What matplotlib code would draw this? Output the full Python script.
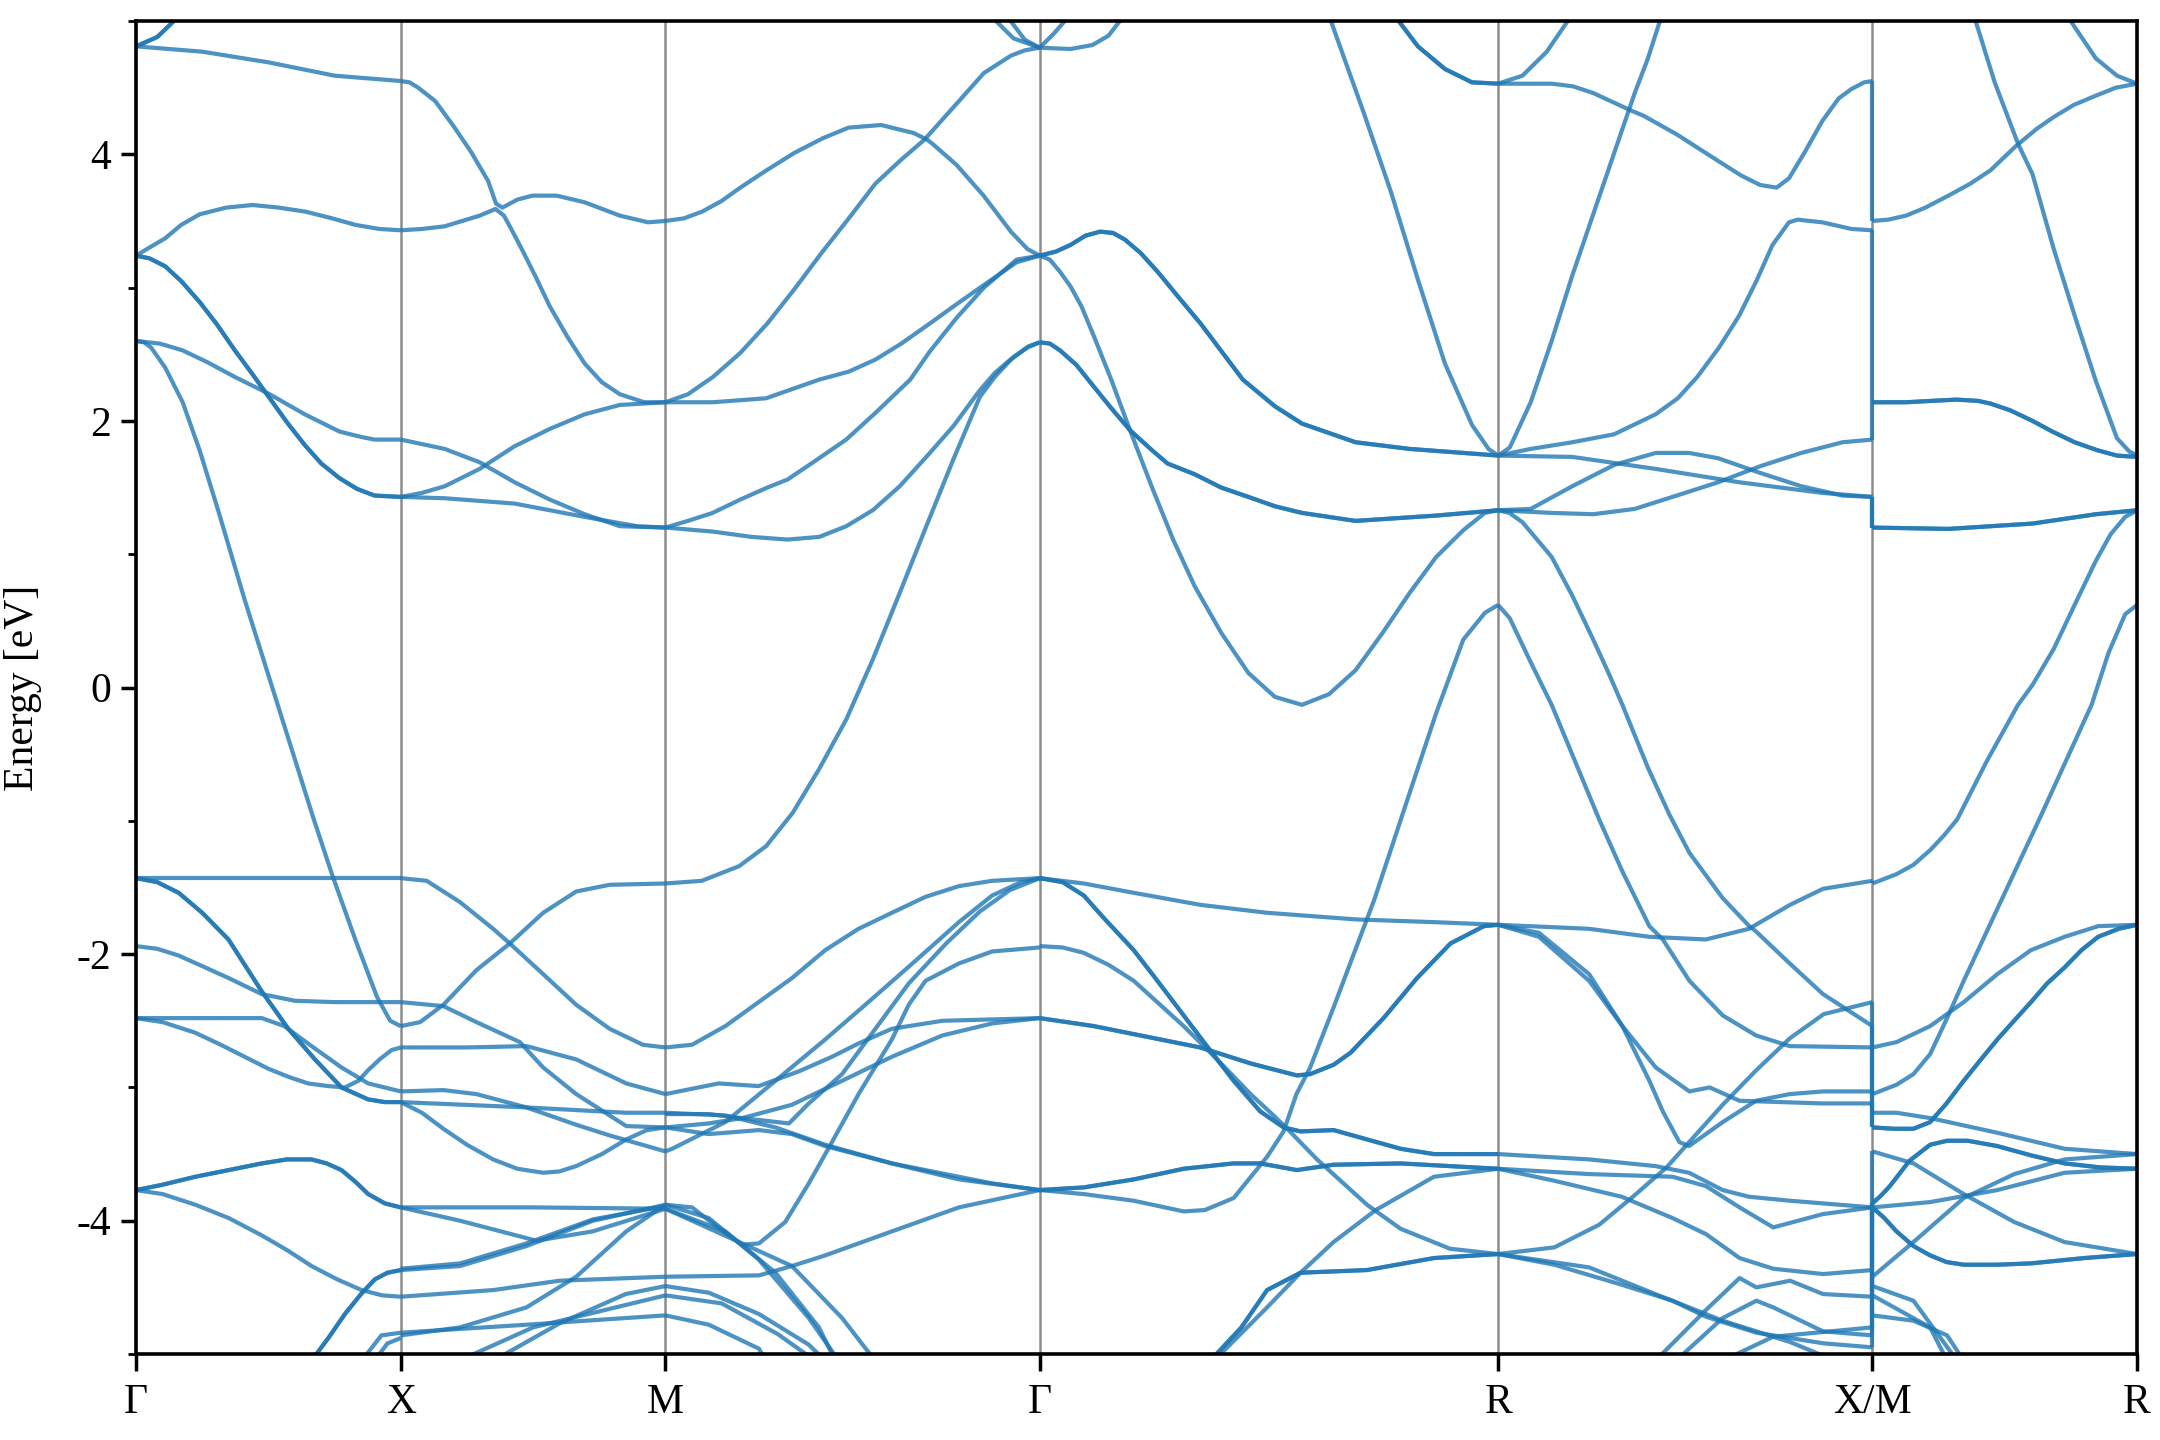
import numpy as np
import matplotlib
matplotlib.use('Agg')
import matplotlib.pyplot as plt
from matplotlib.ticker import MultipleLocator

# high symmetry points along the path (units of 2pi/a)
kpts = [0.0, 0.5, 1.0, 1.7071, 2.5731, 3.2802, 3.7802]
klabels = ['Γ', 'X', 'M', 'Γ', 'R', 'X/M', 'R']

# each band: (fraction along the segment, energy in eV)

# Gamma -> X
seg_gx = [
    ([0, .08, .169], [4.81, 4.88, 5.05]),
    ([0, .08, .169], [4.81, 4.88, 5.05]),
    ([0, .25, .5, .75, 1], [4.81, 4.77, 4.69, 4.59, 4.55]),
    ([0, .05, .11, .17, .24, .34, .44, .54, .64, .74, .83, .92, 1],
     [3.24, 3.30, 3.37, 3.47, 3.55, 3.60, 3.62, 3.60, 3.57, 3.52, 3.47, 3.44, 3.43]),
    ([0, .05, .11, .17, .241, .307, .373, .44, .505, .57, .637, .70, .769, .835, .901, 1],
     [3.24, 3.22, 3.16, 3.05, 2.89, 2.72, 2.53, 2.35, 2.17, 1.99, 1.82, 1.68, 1.57, 1.49, 1.44, 1.43]),
    ([0, .05, .11, .17, .241, .307, .373, .44, .505, .57, .637, .70, .769, .835, .901, 1],
     [3.24, 3.22, 3.16, 3.05, 2.89, 2.72, 2.53, 2.35, 2.17, 1.99, 1.82, 1.68, 1.57, 1.49, 1.44, 1.43]),
    ([0, .09, .175, .27, .373, .505, .637, .769, .85, .901, 1],
     [2.60, 2.58, 2.53, 2.44, 2.33, 2.20, 2.05, 1.92, 1.88, 1.86, 1.86]),
    ([0, .03, .057, .11, .176, .24, .31, .41, .54, .67, .74, .83, .91, .96, 1],
     [2.60, 2.59, 2.55, 2.40, 2.14, 1.78, 1.33, 0.66, -0.16, -0.98, -1.40, -1.90, -2.32, -2.50, -2.54]),
    ([0, .5, 1], [-1.43, -1.43, -1.43]),
    ([0, .08, .161, .25, .349, .475, .575, .676, .776, .877, .94, 1],
     [-1.43, -1.46, -1.54, -1.69, -1.89, -2.28, -2.56, -2.79, -3.0, -3.09, -3.11, -3.11]),
    ([0, .08, .161, .25, .349, .475, .575, .676, .776, .877, .94, 1],
     [-1.43, -1.46, -1.54, -1.69, -1.89, -2.28, -2.56, -2.79, -3.0, -3.09, -3.11, -3.11]),
    ([0, .08, .16, .25, .35, .475, .6, .75, 1], [-1.94, -1.96, -2.01, -2.09, -2.18, -2.30, -2.35, -2.36, -2.36]),
    ([0, .224, .475, .56, .663, .776, .877, 1], [-2.48, -2.48, -2.48, -2.54, -2.69, -2.85, -2.97, -3.03]),
    ([0, .1, .224, .32, .41, .5, .575, .65, .726, .789, .84, .877, .92, .965, 1],
     [-2.48, -2.51, -2.59, -2.68, -2.77, -2.86, -2.92, -2.97, -2.99, -3.0, -2.95, -2.87, -2.79, -2.72, -2.70]),
    ([0, .1, .224, .35, .475, .57, .663, .72, .776, .83, .877, .94, 1],
     [-3.77, -3.73, -3.67, -3.62, -3.57, -3.54, -3.54, -3.57, -3.62, -3.71, -3.80, -3.87, -3.90]),
    ([0, .1, .224, .35, .475, .57, .663, .72, .776, .83, .877, .94, 1],
     [-3.77, -3.73, -3.67, -3.62, -3.57, -3.54, -3.54, -3.57, -3.62, -3.71, -3.80, -3.87, -3.90]),
    ([0, .1, .224, .35, .475, .57, .663, .76, .852, .93, 1],
     [-3.77, -3.80, -3.88, -3.98, -4.11, -4.22, -4.34, -4.44, -4.52, -4.56, -4.57]),
    ([.663, .73, .789, .85, .902, .95, 1], [-5.05, -4.87, -4.70, -4.55, -4.44, -4.39, -4.37]),
    ([.663, .73, .789, .85, .902, .95, 1], [-5.05, -4.87, -4.70, -4.55, -4.44, -4.39, -4.37]),
    ([.852, .927, 1], [-5.05, -4.86, -4.84]),
    ([.9, .95, 1], [-5.05, -4.92, -4.88]),
]

# X -> M
seg_xm = [
    ([0, .033, .066, .13, .2, .265, .33, .36, .384, .44, .497, .589, .695, .828, .934, 1],
     [4.55, 4.54, 4.50, 4.40, 4.21, 4.02, 3.80, 3.63, 3.60, 3.66, 3.69, 3.69, 3.64, 3.54, 3.49, 3.50]),
    ([0, .08, .166, .298, .358, .39, .42, .457, .51, .563, .63, .695, .76, .828, .92, 1],
     [3.43, 3.44, 3.46, 3.54, 3.59, 3.54, 3.43, 3.29, 3.08, 2.86, 2.63, 2.43, 2.29, 2.20, 2.14, 2.14]),
    ([0, .166, .298, .43, .563, .695, .828, 1], [1.86, 1.79, 1.69, 1.54, 1.41, 1.30, 1.21, 1.20]),
    ([0, .08, .166, .298, .43, .563, .695, .828, 1], [1.43, 1.46, 1.51, 1.64, 1.81, 1.94, 2.05, 2.12, 2.14]),
    ([0, .166, .43, .695, .894, 1], [1.43, 1.42, 1.38, 1.28, 1.21, 1.20]),
    ([0, .098, .224, .349, .412, .538, .663, .789, .915, 1],
     [-1.43, -1.45, -1.61, -1.81, -1.92, -2.15, -2.38, -2.56, -2.68, -2.70]),
    ([0, .073, .161, .286, .412, .538, .663, .789, 1], [-2.54, -2.51, -2.38, -2.12, -1.92, -1.69, -1.53, -1.48, -1.47]),
    ([0, .161, .286, .45, .538, .663, .789, .852, 1], [-2.36, -2.39, -2.51, -2.66, -2.85, -3.05, -3.21, -3.29, -3.30]),
    ([0, .25, .475, .663, .852, 1], [-2.70, -2.70, -2.69, -2.79, -2.97, -3.05]),
    ([0, .161, .286, .475, .663, .789, 1], [-3.03, -3.02, -3.05, -3.15, -3.28, -3.36, -3.48]),
    ([0, .475, .852, 1], [-3.11, -3.15, -3.19, -3.19]),
    ([0, .08, .161, .25, .349, .44, .538, .6, .663, .76, .852, .93, 1],
     [-3.11, -3.19, -3.31, -3.43, -3.54, -3.61, -3.64, -3.63, -3.59, -3.50, -3.39, -3.32, -3.30]),
    ([0, .5, 1], [-3.90, -3.90, -3.91]),
    ([0, .224, .513, .725, 1], [-3.90, -4.00, -4.15, -4.08, -3.91]),
    ([0, .224, .475, .726, 1], [-4.37, -4.34, -4.19, -4.00, -3.88]),
    ([0, .224, .475, .726, 1], [-4.36, -4.32, -4.17, -3.99, -3.89]),
    ([0, .35, .6, 1], [-4.57, -4.52, -4.45, -4.42]),
    ([0, .224, .475, .663, .852, 1], [-4.86, -4.80, -4.65, -4.42, -4.08, -3.88]),
    ([0, .475, 1], [-4.84, -4.78, -4.71]),
    ([.35, .6, .85, 1], [-5.05, -4.77, -4.55, -4.49]),
    ([.22, .5, 1], [-5.05, -4.80, -4.56]),
]

# M -> Gamma
seg_mg = [
    ([0, .05, .098, .15, .2, .27, .344, .42, .489, .576, .663, .699, .713, .778, .85, .923, .967, 1],
     [3.50, 3.52, 3.57, 3.65, 3.75, 3.88, 4.01, 4.12, 4.20, 4.22, 4.16, 4.11, 4.08, 3.92, 3.69, 3.42, 3.29, 3.24]),
    ([0, .06, .127, .2, .272, .345, .417, .49, .561, .63, .692, .778, .851, .923, .96, 1],
     [2.14, 2.20, 2.33, 2.51, 2.73, 2.99, 3.26, 3.52, 3.78, 3.96, 4.11, 4.38, 4.61, 4.74, 4.78, 4.80]),
    ([0, .126, .269, .411, .49, .561, .63, .706, .78, .851, .938, 1],
     [2.14, 2.14, 2.17, 2.31, 2.37, 2.46, 2.58, 2.73, 2.88, 3.02, 3.19, 3.24]),
    ([0, .06, .126, .2, .272, .326, .4, .483, .561, .654, .706, .78, .851, .938, 1],
     [1.20, 1.25, 1.31, 1.41, 1.50, 1.56, 1.70, 1.86, 2.06, 2.31, 2.52, 2.78, 3.0, 3.21, 3.24]),
    ([0, .126, .23, .326, .411, .483, .554, .626, .697, .769, .84, .88, .93, .967, 1],
     [1.20, 1.17, 1.13, 1.11, 1.13, 1.21, 1.33, 1.51, 1.73, 1.96, 2.23, 2.36, 2.48, 2.55, 2.59]),
    ([.865, .93, 1], [5.05, 4.87, 4.80]),
    ([.909, .96, 1], [5.05, 4.86, 4.80]),
    ([0, .097, .197, .269, .34, .411, .483, .554, .626, .697, .769, .84, .88, .923, .97, 1],
     [-1.47, -1.45, -1.34, -1.19, -0.94, -0.61, -0.24, 0.21, 0.71, 1.21, 1.71, 2.18, 2.33, 2.46, 2.56, 2.59]),
    ([0, .071, .16, .249, .338, .427, .516, .605, .695, .784, .873, 1],
     [-2.70, -2.68, -2.54, -2.36, -2.18, -1.97, -1.81, -1.69, -1.57, -1.49, -1.45, -1.43]),
    ([0, .071, .142, .249, .356, .445, .516, .605, .74, 1], [-3.05, -3.01, -2.97, -2.99, -2.88, -2.77, -2.67, -2.56, -2.50, -2.48]),
    ([0, .116, .205, .338, .472, .605, .74, .873, 1], [-3.20, -3.20, -3.23, -3.13, -2.95, -2.77, -2.61, -2.52, -2.48]),
    ([0, .018, .16, .294, .427, .534, .66, .784, .873, .95, 1],
     [-3.48, -3.46, -3.26, -2.95, -2.64, -2.38, -2.07, -1.76, -1.56, -1.46, -1.43]),
    ([0, .116, .205, .33, .383, .472, .561, .65, .75, .84, .92, 1],
     [-3.30, -3.27, -3.23, -3.27, -3.12, -2.90, -2.56, -2.22, -1.92, -1.68, -1.52, -1.43]),
    ([0, .116, .25, .338, .427, .605, .784, 1], [-3.30, -3.35, -3.32, -3.35, -3.44, -3.57, -3.69, -3.77]),
    ([0, .16, .294, .427, .605, .873, 1], [-3.19, -3.21, -3.30, -3.43, -3.57, -3.72, -3.77]),
    ([0, .071, .14, .205, .25, .32, .383, .445, .516, .605, .65, .695, .784, .873, 1],
     [-3.88, -3.90, -4.05, -4.18, -4.17, -4.01, -3.72, -3.41, -3.05, -2.64, -2.38, -2.20, -2.07, -1.98, -1.95]),
    ([0, .25, .338, .427, .605, .784, 1], [-4.42, -4.41, -4.34, -4.26, -4.08, -3.90, -3.77]),
    ([0, .116, .249, .383, .463], [-3.88, -3.98, -4.29, -4.73, -5.05]),
    ([0, .16, .294, .41, .454], [-3.91, -4.08, -4.39, -4.80, -5.05]),
    ([0, .205, .338, .472, .56], [-3.91, -4.17, -4.34, -4.73, -5.05]),
    ([0, .116, .25, .383, .427], [-4.49, -4.54, -4.70, -4.93, -5.05]),
    ([0, .116, .25, .267], [-4.71, -4.78, -4.96, -5.05]),
    ([0, .15, .3, .4], [-4.56, -4.62, -4.85, -5.05]),
]

# Gamma -> R
seg_gr = [
    ([0, .032, .067], [4.80, 4.91, 5.05]),
    ([0, .067, .115, .15, .186], [4.80, 4.79, 4.82, 4.89, 5.05]),
    ([0, .035, .067, .1, .132, .16, .186, .22, .257, .3, .351, .443, .513, .572, .689, .807, .924, 1],
     [3.24, 3.27, 3.32, 3.39, 3.42, 3.41, 3.36, 3.26, 3.12, 2.94, 2.73, 2.31, 2.11, 1.98, 1.84, 1.79, 1.76, 1.74]),
    ([0, .035, .067, .1, .132, .16, .186, .22, .257, .3, .351, .443, .513, .572, .689, .807, .924, 1],
     [3.24, 3.27, 3.32, 3.39, 3.42, 3.41, 3.36, 3.26, 3.12, 2.94, 2.73, 2.31, 2.11, 1.98, 1.84, 1.79, 1.76, 1.74]),
    ([0, .022, .044, .067, .091, .12, .156, .197, .244, .291, .338, .396, .455, .513, .572, .631, .689, .748, .807,
      .865, .924, .971, 1],
     [3.24, 3.21, 3.12, 3.01, 2.86, 2.62, 2.31, 1.93, 1.51, 1.11, 0.76, 0.41, 0.11, -0.07, -0.13, -0.05, 0.13, 0.41,
      0.71, 0.98, 1.18, 1.31, 1.33]),
    ([0, .022, .044, .08, .115, .155, .197, .245, .279, .338, .396, .455, .513, .572, .689, .865, 1],
     [2.59, 2.58, 2.53, 2.42, 2.27, 2.10, 1.93, 1.78, 1.68, 1.60, 1.50, 1.43, 1.36, 1.31, 1.25, 1.29, 1.33]),
    ([0, .022, .044, .08, .115, .155, .197, .245, .279, .338, .396, .455, .513, .572, .689, .865, 1],
     [2.59, 2.58, 2.53, 2.42, 2.27, 2.10, 1.93, 1.78, 1.68, 1.60, 1.50, 1.43, 1.36, 1.31, 1.25, 1.29, 1.33]),
    ([.63, .707, .766, .825, .884, .943, .979, 1], [5.05, 4.31, 3.72, 3.06, 2.43, 1.97, 1.79, 1.74]),
    ([.772, .825, .884, .943, 1], [5.05, 4.81, 4.64, 4.54, 4.53]),
    ([.772, .825, .884, .943, 1], [5.05, 4.81, 4.64, 4.54, 4.53]),
    ([0, .096, .205, .35, .496, .692, .86, 1], [-1.43, -1.47, -1.54, -1.63, -1.69, -1.74, -1.76, -1.78]),
    ([0, .05, .096, .14, .205, .25, .292, .358, .423, .481, .532, .569, .641, .714, .787, .86, 1],
     [-1.43, -1.46, -1.56, -1.73, -1.97, -2.17, -2.36, -2.66, -2.95, -3.18, -3.30, -3.33, -3.32, -3.39, -3.46, -3.50, -3.50]),
    ([0, .05, .096, .14, .205, .25, .292, .358, .423, .481, .532, .569, .641, .714, .787, .86, 1],
     [-1.43, -1.46, -1.56, -1.73, -1.97, -2.17, -2.36, -2.66, -2.95, -3.18, -3.30, -3.33, -3.32, -3.39, -3.46, -3.50, -3.50]),
    ([0, .05, .096, .15, .205, .314, .387, .46, .51, .54, .605, .714, .787, .895, 1],
     [-1.94, -1.95, -1.99, -2.08, -2.20, -2.54, -2.79, -3.05, -3.21, -3.31, -3.54, -3.88, -4.06, -4.21, -4.25]),
    ([0, .096, .205, .314, .36, .423, .496, .532, .56, .59, .641, .73, .807, .865, .924, .971, 1],
     [-3.77, -3.80, -3.85, -3.93, -3.92, -3.83, -3.52, -3.33, -3.05, -2.85, -2.40, -1.59, -0.79, -0.19, 0.36, 0.56, 0.62]),
    ([0, .118, .263, .35, .387, .46, .561, .59, .641, .678, .75, .823, .896, .969, 1],
     [-2.48, -2.54, -2.64, -2.70, -2.74, -2.82, -2.91, -2.90, -2.83, -2.74, -2.48, -2.18, -1.92, -1.79, -1.78]),
    ([0, .118, .263, .35, .387, .46, .561, .59, .641, .678, .75, .823, .896, .969, 1],
     [-2.48, -2.54, -2.64, -2.70, -2.74, -2.82, -2.91, -2.90, -2.83, -2.74, -2.48, -2.18, -1.92, -1.79, -1.78]),
    ([0, .096, .205, .314, .423, .481, .561, .641, .787, 1], [-3.77, -3.75, -3.69, -3.61, -3.57, -3.57, -3.62, -3.58, -3.57, -3.61]),
    ([0, .096, .205, .314, .423, .481, .561, .641, .787, 1], [-3.77, -3.75, -3.69, -3.61, -3.57, -3.57, -3.62, -3.58, -3.57, -3.61]),
    ([.372, .44, .496, .569, .714, .86, 1], [-5.05, -4.80, -4.52, -4.39, -4.37, -4.28, -4.25]),
    ([.372, .44, .496, .569, .714, .86, 1], [-5.05, -4.80, -4.52, -4.39, -4.37, -4.28, -4.25]),
    ([.38, .496, .569, .641, .733, .86, 1], [-5.05, -4.65, -4.39, -4.16, -3.92, -3.67, -3.61]),
]

# R -> X
seg_rx = [
    ([0, .065, .13, .198], [4.53, 4.59, 4.77, 5.05]),
    ([0, .143, .2, .254, .354, .388, .477, .588, .65, .70, .744, .777, .82, .866, .91, .944, .978, 1],
     [4.53, 4.53, 4.51, 4.46, 4.33, 4.29, 4.15, 3.95, 3.84, 3.77, 3.75, 3.82, 4.02, 4.25, 4.42, 4.49, 4.54, 4.55]),
    ([0, .031, .087, .143, .198, .254, .31, .365, .399, .438], [1.74, 1.80, 2.14, 2.60, 3.09, 3.55, 4.01, 4.46, 4.71, 5.05]),
    ([0, .087, .198, .31, .421, .48, .532, .59, .644, .69, .733, .777, .80, .866, .944, 1],
     [1.74, 1.79, 1.84, 1.90, 2.05, 2.17, 2.33, 2.55, 2.79, 3.05, 3.32, 3.49, 3.51, 3.49, 3.44, 3.43]),
    ([0, .198, .421, .644, .866, 1], [1.74, 1.73, 1.64, 1.54, 1.46, 1.43]),
    ([0, .087, .198, .31, .421, .51, .588, .70, .81, .92, 1], [1.33, 1.34, 1.51, 1.67, 1.76, 1.76, 1.72, 1.61, 1.51, 1.44, 1.43]),
    ([0, .143, .254, .365, .477, .588, .70, .81, .92, 1], [1.33, 1.31, 1.30, 1.34, 1.44, 1.54, 1.66, 1.76, 1.84, 1.86]),
    ([0, .03, .065, .143, .198, .254, .298, .332, .4, .457, .511, .60, .671, .689, .779, .868, 1],
     [1.33, 1.31, 1.24, 0.98, 0.69, 0.36, 0.09, -0.13, -0.60, -0.95, -1.24, -1.58, -1.79, -1.83, -2.07, -2.30, -2.54]),
    ([0, .031, .087, .143, .27, .332, .404, .44, .511, .60, .689, .779, 1],
     [0.62, 0.52, 0.19, -0.13, -0.99, -1.38, -1.79, -1.89, -2.20, -2.46, -2.61, -2.69, -2.70]),
    ([0, .243, .404, .555, .67, .78, .868, 1], [-1.78, -1.81, -1.87, -1.89, -1.81, -1.63, -1.51, -1.45]),
    ([0, .109, .243, .332, .421, .511, .565, .645, .868, 1], [-1.78, -1.87, -2.20, -2.54, -2.85, -3.03, -3.00, -3.10, -3.12, -3.12]),
    ([0, .109, .243, .332, .404, .44, .484, .51, .6, .689, .779, .868, 1],
     [-1.78, -1.84, -2.15, -2.54, -2.95, -3.18, -3.41, -3.44, -3.26, -3.10, -3.05, -3.03, -3.03]),
    ([0, .15, .27, .36, .45, .52, .6, .69, .78, .87, 1], [-4.25, -4.20, -4.03, -3.82, -3.60, -3.38, -3.13, -2.87, -2.63, -2.45, -2.36]),
    ([0, .243, .42, .51, .6, .67, .78, 1], [-3.50, -3.54, -3.59, -3.64, -3.77, -3.82, -3.85, -3.90]),
    ([0, .15, .33, .466, .555, .645, .735, .868, 1], [-3.61, -3.70, -3.82, -3.98, -4.10, -4.28, -4.36, -4.40, -4.37]),
    ([0, .243, .466, .555, .645, .735, .868, 1], [-3.61, -3.65, -3.67, -3.74, -3.90, -4.05, -3.95, -3.90]),
    ([0, .15, .33, .466, .555, .69, .87, 1], [-4.25, -4.33, -4.48, -4.60, -4.72, -4.84, -4.92, -4.95]),
    ([0, .243, .42, .6, .78, .9], [-4.25, -4.35, -4.55, -4.75, -4.91, -5.05]),
    ([.42, .555, .645, .69, .78, .868, 1], [-5.05, -4.67, -4.43, -4.50, -4.45, -4.55, -4.57]),
    ([.475, .6, .69, .735, .868, 1], [-5.05, -4.73, -4.60, -4.65, -4.83, -4.86]),
    ([.6, .735, 1], [-5.05, -4.87, -4.80]),
]

# M -> R
seg_mr = [
    ([0, .06, .127, .2, .287, .37, .446, .541, .565, .62, .685, .76, .844, .92, 1],
     [3.50, 3.51, 3.54, 3.60, 3.69, 3.78, 3.88, 4.06, 4.10, 4.19, 4.28, 4.37, 4.44, 4.50, 4.53]),
    ([.382, .462, .55, .605, .685, .764, .844, .924, .971, 1], [5.05, 4.54, 4.08, 3.85, 3.29, 2.79, 2.30, 1.87, 1.77, 1.74]),
    ([.732, .844, .924, 1], [5.05, 4.72, 4.59, 4.53]),
    ([0, .127, .22, .318, .4, .446, .52, .605, .68, .764, .85, .924, 1],
     [2.14, 2.14, 2.15, 2.16, 2.15, 2.13, 2.08, 2.0, 1.92, 1.84, 1.78, 1.74, 1.73]),
    ([0, .127, .22, .318, .4, .446, .52, .605, .68, .764, .85, .924, 1],
     [2.14, 2.14, 2.15, 2.16, 2.15, 2.13, 2.08, 2.0, 1.92, 1.84, 1.78, 1.74, 1.73]),
    ([0, .287, .605, .844, 1], [1.20, 1.19, 1.23, 1.30, 1.33]),
    ([0, .287, .605, .844, 1], [1.20, 1.19, 1.23, 1.30, 1.33]),
    ([0, .091, .155, .218, .27, .32, .43, .55, .605, .685, .764, .844, .9, .955, 1],
     [-1.47, -1.40, -1.33, -1.22, -1.11, -0.99, -0.56, -0.13, 0.02, 0.29, 0.62, 0.95, 1.15, 1.28, 1.33]),
    ([0, .091, .155, .218, .282, .345, .472, .63, .828, .892, .955, 1],
     [-3.05, -2.98, -2.90, -2.75, -2.48, -2.20, -1.66, -0.99, -0.13, 0.26, 0.55, 0.62]),
    ([0, .091, .218, .345, .472, .599, .726, .853, 1], [-2.70, -2.66, -2.54, -2.36, -2.15, -1.97, -1.87, -1.79, -1.78]),
    ([0, .08, .155, .218, .28, .345, .41, .472, .535, .599, .66, .726, .79, .853, .93, 1],
     [-3.30, -3.31, -3.31, -3.26, -3.12, -2.95, -2.79, -2.64, -2.50, -2.36, -2.22, -2.10, -1.97, -1.87, -1.81, -1.78]),
    ([0, .08, .155, .218, .28, .345, .41, .472, .535, .599, .66, .726, .79, .853, .93, 1],
     [-3.30, -3.31, -3.31, -3.26, -3.12, -2.95, -2.79, -2.64, -2.50, -2.36, -2.22, -2.10, -1.97, -1.87, -1.81, -1.78]),
    ([0, .091, .218, .472, .726, 1], [-3.19, -3.19, -3.23, -3.34, -3.46, -3.50]),
    ([0, .033, .066, .14, .218, .282, .36, .472, .6, .726, .86, 1],
     [-3.87, -3.81, -3.74, -3.55, -3.43, -3.40, -3.40, -3.44, -3.51, -3.57, -3.60, -3.61]),
    ([0, .033, .066, .14, .218, .282, .36, .472, .6, .726, .86, 1],
     [-3.87, -3.81, -3.74, -3.55, -3.43, -3.40, -3.40, -3.44, -3.51, -3.57, -3.60, -3.61]),
    ([0, .155, .345, .536, .726, 1], [-3.48, -3.57, -3.80, -4.01, -4.16, -4.25]),
    ([0, .045, .091, .155, .218, .28, .345, .47, .599, .8, 1],
     [-3.90, -3.98, -4.08, -4.19, -4.26, -4.31, -4.33, -4.33, -4.32, -4.28, -4.25]),
    ([0, .045, .091, .155, .218, .28, .345, .47, .599, .8, 1],
     [-3.90, -3.98, -4.08, -4.19, -4.26, -4.31, -4.33, -4.33, -4.32, -4.28, -4.25]),
    ([0, .218, .472, .726, 1], [-3.90, -3.86, -3.77, -3.64, -3.61]),
    ([0, .155, .345, .536, .726, 1], [-4.42, -4.16, -3.83, -3.65, -3.54, -3.50]),
    ([0, .155, .32], [-4.49, -4.60, -5.05]),
    ([0, .218, .282], [-4.56, -4.80, -5.05]),
    ([0, .155, .282, .345], [-4.71, -4.75, -4.86, -5.05]),
]

band_color = '#1f77b4'


# draws all bands of one path segment between two k points
def plotSegment(ax, bands, k0, k1):
    for t, e in bands:
        x = k0 + np.array(t) * (k1 - k0)
        ax.plot(x, e, color=band_color, lw=1.5, alpha=0.8,
                solid_capstyle='butt', solid_joinstyle='round', zorder=2)


def main():
    plt.rcParams['font.family'] = ['Liberation Serif', 'DejaVu Serif']
    plt.rcParams['axes.unicode_minus'] = False

    fig, ax = plt.subplots(figsize=(10.8, 7.2), dpi=200)
    fig.subplots_adjust(left=0.063, right=0.9894, top=0.9854, bottom=0.0597)

    # vertical lines at the high symmetry points
    for k in kpts[1:-1]:
        ax.axvline(k, color='gray', lw=0.9, alpha=0.9, zorder=1)

    segments = [seg_gx, seg_xm, seg_mg, seg_gr, seg_rx, seg_mr]
    for i, seg in enumerate(segments):
        plotSegment(ax, seg, kpts[i], kpts[i + 1])

    # band jumps at the X|M discontinuity (bands joined by energy order)
    ends = sorted([e[-1] for t, e in seg_rx if t[-1] == 1], reverse=True)
    starts = sorted([e[0] for t, e in seg_mr if t[0] == 0], reverse=True)
    for a, b in zip(ends, starts):
        ax.plot([kpts[5], kpts[5]], [a, b], color=band_color, lw=1.5, alpha=0.8,
                solid_capstyle='butt', zorder=2)

    ax.set_xlim(kpts[0], kpts[-1])
    ax.set_ylim(-5, 5)
    ax.set_xticks(kpts)
    ax.set_xticklabels(klabels)
    ax.yaxis.set_major_locator(MultipleLocator(2))
    ax.yaxis.set_minor_locator(MultipleLocator(1))
    ax.tick_params(axis='both', which='major', labelsize=15, width=1.25, length=5.5, direction='out')
    ax.tick_params(axis='x', which='major', length=6, pad=4.5)
    ax.tick_params(axis='y', which='minor', width=1.0, length=3, direction='out')
    for sp in ax.spines.values():
        sp.set_linewidth(1.3)

    ax.set_ylabel('Energy [eV]', fontsize=15)
    ax.yaxis.set_label_coords(-0.047, 0.5)

    plt.savefig('out.png', dpi=200)
    plt.close()


main()
